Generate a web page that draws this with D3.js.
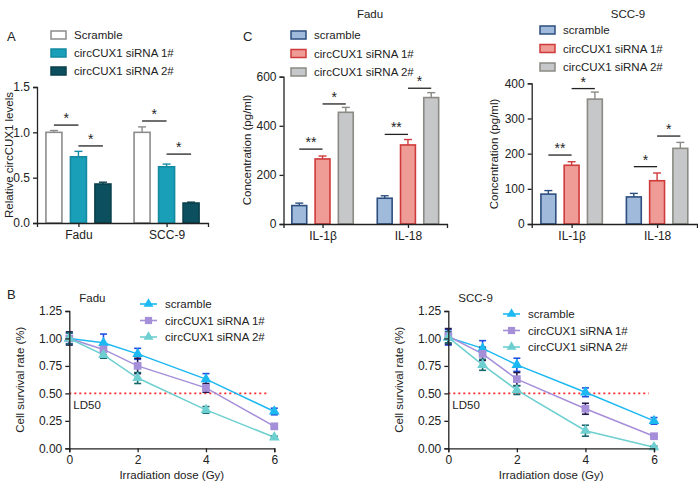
<!DOCTYPE html>
<html>
<head>
<meta charset="utf-8">
<script src="https://cdn.jsdelivr.net/npm/d3@7"></script>
<style>
  body { margin: 0; background: #fff; }
  svg { font-family: "Liberation Sans", Arial, sans-serif; }
  .axis path, .axis line { stroke: #222; stroke-width: 1.3; }
  .axis text { font-size: 12px; fill: #222; }
</style>
</head>
<body>
<svg id="fig" width="698" height="482"></svg>
<script>
// ── panel A: relative circCUX1 levels ──
const cellLines = ['Fadu', 'SCC-9'];
const seriesA = ['Scramble', 'circCUX1 siRNA 1#', 'circCUX1 siRNA 2#'];
const valuesA = [[1.00, 0.73, 0.43], [1.00, 0.62, 0.22]];
const errorsA = [[0.02, 0.06, 0.02], [0.06, 0.03, 0.01]];
// significance: [group, from series, to series, height, label]
const sigA = [[0, 0, 1, 1.08, '*'], [0, 1, 2, 0.85, '*'], [1, 0, 1, 1.125, '*'], [1, 1, 2, 0.76, '*']];

// ── panel C: cytokines ──
const cytokines = ['IL-1β', 'IL-18'];
const seriesC = ['scramble', 'circCUX1 siRNA 1#', 'circCUX1 siRNA 2#'];
const valuesFadu = [[75, 265, 455], [105, 322, 515]];
const errorsFadu = [[10, 12, 20], [10, 22, 20]];
const sigFadu = [[0, 0, 1, 305, '**'], [0, 1, 2, 489, '*'], [1, 0, 1, 365, '**'], [1, 1, 2, 553, '*']];
const valuesScc = [[85, 167, 355], [77, 123, 215]];
const errorsScc = [[10, 10, 20], [10, 22, 17]];
const sigScc = [[0, 0, 1, 196, '**'], [0, 1, 2, 385, '*'], [1, 0, 1, 163, '*'], [1, 1, 2, 250, '*']];

// ── panel B: survival curves ──
const doses = [0, 1, 2, 4, 6];
const seriesB = ['scramble', 'circCUX1 siRNA 1#', 'circCUX1 siRNA 2#'];
const survFadu = [[1.00, 0.96, 0.86, 0.63, 0.335], [1.00, 0.90, 0.75, 0.55, 0.20], [1.00, 0.85, 0.64, 0.35, 0.10]];
const survFaduErr = [[0.05, 0.08, 0.05, 0.05, 0.03], [0.06, 0.05, 0.07, 0.04, 0.01], [0.05, 0.03, 0.05, 0.03, 0.01]];
const survScc = [[1.01, 0.91, 0.76, 0.51, 0.25], [1.02, 0.86, 0.63, 0.36, 0.11], [1.01, 0.76, 0.53, 0.16, 0.01]];
const survSccErr = [[0.07, 0.07, 0.06, 0.04, 0.03], [0.07, 0.06, 0.06, 0.05, 0.01], [0.05, 0.05, 0.04, 0.05, 0.01]];
const yTicksB = [0, 0.25, 0.5, 0.75, 1.0, 1.25];
const xTicksB = [0, 2, 4, 6];

const styleA = [
  { fill: '#ffffff', stroke: '#8c8c8c' },
  { fill: '#1a9fb8', stroke: '#138aa2' },
  { fill: '#0c4f5e', stroke: '#083f4b' },
];
const styleC = [
  { fill: '#9fbadb', stroke: '#2d4f80' },
  { fill: '#ef9c97', stroke: '#cf3a3b' },
  { fill: '#c5c7c9', stroke: '#8b8a84' },
];
const styleB = [
  { line: '#1cb8f2', err: '#1f4ee0', marker: 'tri', size: 50 },
  { line: '#a68fd9', err: '#231a4c', marker: 'sq', size: 60 },
  { line: '#6dcfd0', err: '#17666c', marker: 'tri', size: 50 },
];

const svg = d3.select('#fig');

function label(x, y, text, size, anchor) {
  svg.append('text').attr('x', x).attr('y', y).attr('font-size', size || 11)
    .attr('text-anchor', anchor || 'start').attr('fill', '#222').text(text);
}

function yLabel(x, yMid, text) {
  svg.append('text').attr('transform', `translate(${x},${yMid}) rotate(-90)`)
    .attr('text-anchor', 'middle').attr('font-size', 11.5).attr('fill', '#222').text(text);
}

function barLegend(x, y0, dy, names, styles) {
  names.forEach((n, i) => {
    const y = y0 + i * dy;
    svg.append('rect').attr('x', x).attr('y', y - 4).attr('width', 15).attr('height', 8)
      .attr('fill', styles[i].fill).attr('stroke', styles[i].stroke).attr('stroke-width', 1.5);
    label(x + 23, y + 4, n, 11.5);
  });
}

function barPanel(o) {
  const x = d3.scalePoint().domain(o.groups).range([o.x0, o.x1]).padding(o.pad);
  const inner = d3.scaleBand().domain(d3.range(3)).range([-o.span / 2, o.span / 2]).paddingInner(o.inner);
  const y = d3.scaleLinear().domain(o.domain).range([o.y0, o.y1]);
  const g = svg.append('g');

  o.values.forEach((vals, gi) => {
    vals.forEach((v, si) => {
      const bx = x(o.groups[gi]) + inner(si);
      const cx = bx + inner.bandwidth() / 2;
      const top = y(v + o.errors[gi][si]);
      g.append('line').attr('x1', cx).attr('x2', cx).attr('y1', y(v)).attr('y2', top)
        .attr('stroke', o.styles[si].stroke).attr('stroke-width', 1.4);
      g.append('line').attr('x1', cx - 4).attr('x2', cx + 4).attr('y1', top).attr('y2', top)
        .attr('stroke', o.styles[si].stroke).attr('stroke-width', 1.4);
      g.append('rect').attr('x', bx).attr('y', y(v)).attr('width', inner.bandwidth())
        .attr('height', y(0) - y(v)).attr('fill', o.styles[si].fill)
        .attr('stroke', o.styles[si].stroke).attr('stroke-width', 1.6);
    });
  });

  o.sig.forEach(([gi, a, b, h, t]) => {
    const xa = x(o.groups[gi]) + inner(a) + inner.bandwidth() / 2;
    const xb = x(o.groups[gi]) + inner(b) + inner.bandwidth() / 2;
    g.append('line').attr('x1', xa).attr('x2', xb).attr('y1', y(h)).attr('y2', y(h))
      .attr('stroke', '#222').attr('stroke-width', 1.3);
    g.append('text').attr('x', (xa + xb) / 2).attr('y', y(h) - 2).attr('text-anchor', 'middle')
      .attr('font-size', 14).attr('fill', '#222').text(t);
  });

  svg.append('g').attr('class', 'axis').attr('transform', `translate(${o.x0},0)`)
    .call(d3.axisLeft(y).tickValues(o.ticks).tickSizeOuter(0).tickSize(4).tickFormat(o.fmt));
  svg.append('g').attr('class', 'axis').attr('transform', `translate(0,${o.y0})`)
    .call(d3.axisBottom(x).tickSizeOuter(0).tickSize(o.xTick));
}

function markerPath(kind, size) {
  return d3.symbol().type(kind === 'sq' ? d3.symbolSquare : d3.symbolTriangle).size(size)();
}

function linePanel(o) {
  const x = d3.scaleLinear().domain([0, 6]).range([o.x0, o.x1]);
  const y = d3.scaleLinear().domain([0, 1.25]).range([o.y0, o.y1]);
  const g = svg.append('g');

  g.append('line').attr('x1', x(0)).attr('x2', x(5.85)).attr('y1', y(0.5)).attr('y2', y(0.5))
    .attr('stroke', '#ff2a2a').attr('stroke-width', 1.6).attr('stroke-dasharray', '2,3');

  const line = d3.line().x((d, i) => x(doses[i])).y((d) => y(d));
  o.data.forEach((vals, si) => {
    g.append('path').attr('d', line(vals)).attr('fill', 'none')
      .attr('stroke', styleB[si].line).attr('stroke-width', 1.5);
  });
  // error bars first (drawn with caps), then markers on top
  o.data.forEach((vals, si) => {
    vals.forEach((v, i) => {
      const e = o.err[si][i];
      const cx = x(doses[i]);
      const c = styleB[si].err;
      g.append('line').attr('x1', cx).attr('x2', cx).attr('y1', y(v - e)).attr('y2', y(v + e))
        .attr('stroke', c).attr('stroke-width', 1.6);
      [v - e, v + e].forEach((yy) => {
        g.append('line').attr('x1', cx - 3.5).attr('x2', cx + 3.5).attr('y1', y(yy)).attr('y2', y(yy))
          .attr('stroke', c).attr('stroke-width', 1.6);
      });
    });
  });
  o.data.forEach((vals, si) => {
    vals.forEach((v, i) => {
      g.append('path').attr('d', markerPath(styleB[si].marker, styleB[si].size))
        .attr('transform', `translate(${x(doses[i])},${y(v)})`).attr('fill', styleB[si].line);
    });
  });

  svg.append('g').attr('class', 'axis').attr('transform', `translate(${o.x0},0)`)
    .call(d3.axisLeft(y).tickValues(yTicksB).tickSizeOuter(0).tickSize(4).tickFormat(d3.format('.2f')));
  svg.append('g').attr('class', 'axis').attr('transform', `translate(0,${o.y0})`)
    .call(d3.axisBottom(x).tickValues(xTicksB).tickSizeOuter(0).tickSize(4).tickFormat(d3.format('d')));

  // legend
  seriesB.forEach((n, i) => {
    const ly = o.legY + i * o.legDy;
    svg.append('line').attr('x1', o.legX).attr('x2', o.legX + 17).attr('y1', ly).attr('y2', ly)
      .attr('stroke', styleB[i].line).attr('stroke-width', 1.6);
    svg.append('path').attr('d', markerPath(styleB[i].marker, styleB[i].size - 8))
      .attr('transform', `translate(${o.legX + 8.5},${ly})`).attr('fill', styleB[i].line);
    label(o.legX + 25, ly + 4, n, 11.5);
  });
  label(x(0) + 4, 409, 'LD50', 11.5);
  label(x(0) + 10, 302, o.title, 11.5);
  svg.append('text').attr('x', (o.x0 + o.x1) / 2).attr('y', 479).attr('text-anchor', 'middle')
    .attr('font-size', 11.5).attr('fill', '#222').text('Irradiation dose (Gy)');
  yLabel(o.yLabX, (o.y0 + o.y1) / 2, 'Cell survival rate (%)');
}

// panel A
barPanel({
  groups: cellLines, values: valuesA, errors: errorsA, sig: sigA, styles: styleA,
  x0: 37, x1: 208, pad: 0.47, span: 65, inner: 0.347,
  domain: [0, 1.5], y0: 223, y1: 87, ticks: [0, 0.5, 1, 1.5], fmt: d3.format('.1f'), xTick: 4,
});
barLegend(51, 35, 18, seriesA, styleA);
yLabel(13, 155, 'Relative circCUX1 levels');
label(7, 41, 'A', 13);

// panel C — Fadu
barPanel({
  groups: cytokines, values: valuesFadu, errors: errorsFadu, sig: sigFadu, styles: styleC,
  x0: 283.5, x1: 447, pad: 0.457, span: 61.4, inner: 0.36,
  domain: [0, 600], y0: 224, y1: 76.7, ticks: [0, 200, 400, 600], fmt: d3.format('d'), xTick: 4,
});
barLegend(291, 35, 18.5, seriesC, styleC);
yLabel(251, 150, 'Concentration (pg/ml)');
label(370, 18, 'Fadu', 11.5, 'middle');
label(243, 41, 'C', 13);

// panel C — SCC-9
barPanel({
  groups: cytokines, values: valuesScc, errors: errorsScc, sig: sigScc, styles: styleC,
  x0: 531.7, x1: 697, pad: 0.467, span: 61.4, inner: 0.36,
  domain: [0, 400], y0: 224, y1: 83.3, ticks: [0, 100, 200, 300, 400], fmt: d3.format('d'), xTick: 4,
});
barLegend(540, 30, 18.5, seriesC, styleC);
yLabel(498, 154, 'Concentration (pg/ml)');
label(628, 18, 'SCC-9', 11.5, 'middle');

// panel B
label(7, 299, 'B', 13);
linePanel({
  data: survFadu, err: survFaduErr, title: 'Fadu',
  x0: 69.3, x1: 274.3, y0: 448.3, y1: 311, legX: 140, legY: 304, legDy: 16.5, yLabX: 24,
});
linePanel({
  data: survScc, err: survSccErr, title: 'SCC-9',
  x0: 448.3, x1: 654, y0: 448.3, y1: 311, legX: 503, legY: 314, legDy: 16.5, yLabX: 403,
});
</script>
</body>
</html>
